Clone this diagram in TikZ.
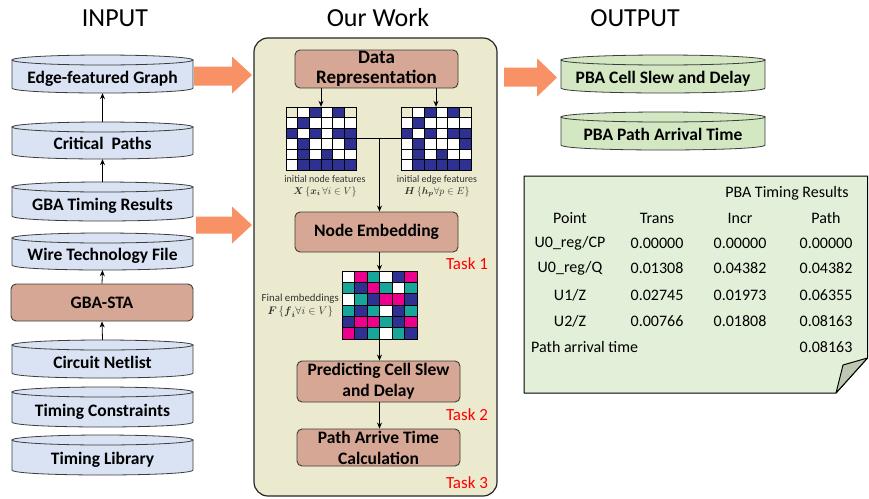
\documentclass[tikz,border=0pt]{standalone}
\usepackage{fontspec}
\usepackage{amsmath}
\setmainfont{Carlito}
\usetikzlibrary{arrows.meta}

\definecolor{inblue}{RGB}{218,227,243}
\definecolor{outgreen}{RGB}{210,231,194}
\definecolor{notegreen}{RGB}{226,239,217}
\definecolor{foldgreen}{RGB}{190,199,178}
\definecolor{panelbg}{RGB}{236,234,206}
\definecolor{boxbrown}{RGB}{213,167,148}
\definecolor{bigarrow}{RGB}{248,146,102}
\definecolor{cellY}{RGB}{236,234,206}
\definecolor{cellW}{RGB}{255,255,255}
\definecolor{cellB}{RGB}{46,49,146}
\definecolor{cellM}{RGB}{236,0,140}
\definecolor{cellT}{RGB}{22,166,154}
\definecolor{taskred}{RGB}{255,0,0}
\definecolor{edgegray}{RGB}{60,60,60}
\definecolor{labelgray}{RGB}{50,50,50}

\tikzset{
  boxtxt/.style={font=\fontsize{17.5}{21}\selectfont\bfseries, align=center, text=black},
  procbox/.style={draw=edgegray, fill=boxbrown, rounded corners=5pt, line width=0.9pt, boxtxt, inner sep=0pt},
  cylbox/.style={rectangle, inner sep=0pt, boxtxt, text height=19pt, text depth=1pt},
  gridbox/.style={rectangle, inner sep=0pt},
  conn/.style={-{Stealth[length=6pt,width=5pt]}, line width=0.8pt, draw=black},
  titletxt/.style={font=\fontsize{26}{30}\selectfont, text=black},
  smalllbl/.style={font=\fontsize{10}{12}\selectfont, text=labelgray, align=center, inner sep=0pt},
  tasktxt/.style={font=\fontsize{17}{20}\selectfont, text=taskred},
  tabtxt/.style={font=\fontsize{16}{19}\selectfont, text=black, inner sep=0pt},
  bigarr/.style={fill=bigarrow, draw=none}
}

% name, cx, top, bottom, half width, fill, text
\newcommand\cylshape[7]{%
  \filldraw[fill=#6, draw=edgegray, line width=0.8pt] ({#2-#5},{#3+5}) -- ({#2-#5},{#4-5})
     .. controls ({#2-#5},{#4+1.67}) and ({#2+#5},{#4+1.67}) .. ({#2+#5},{#4-5}) -- ({#2+#5},{#3+5}) -- cycle;
  \filldraw[fill=#6, draw=edgegray, line width=0.8pt] (#2,{#3+5}) ellipse[x radius=#5, y radius=5];
  \node[cylbox, minimum width={2*#5}, minimum height={#4-#3}] (#1) at (#2,{(#3+#4)/2}) {#7};
}

% x0, y0, cell width, cell height, rows
\newcommand\cellgrid[5]{%
  \foreach \row [count=\r] in {#5} {
    \foreach \c [count=\k] in \row {
      \filldraw[fill=cell\c, draw=black, line width=0.6pt] ({#1+(\k-1)*#3},{#2+(\r-1)*#4}) rectangle ++(#3,#4);
    }
  }
}

\begin{document}
\begin{tikzpicture}[x=1pt,y=-1pt]
\useasboundingbox (0,0) rectangle (869,498);

% titles
\node[titletxt] (tin) at (115,18) {INPUT};
\node[titletxt] (tow) at (378,18) {Our Work};
\node[titletxt] (tout) at (635,18) {OUTPUT};

% central panel
\draw[fill=panelbg, draw=black!85, line width=1.2pt, rounded corners=14pt] (254,38) rectangle (497,496);

% input column
\cylshape{efg}{102.5}{55}{93}{90.5}{inblue}{Edge-featured Graph}
\cylshape{cp}{102.5}{122}{159}{90.5}{inblue}{Critical\ \ Paths}
\cylshape{gtr}{102.5}{182}{221}{90.5}{inblue}{GBA Timing Results}
\cylshape{wtf}{102.5}{233}{270}{90.5}{inblue}{Wire Technology File}
\node[procbox, minimum width=182, minimum height=37] (sta) at (102,302.5) {GBA-STA};
\cylshape{cn}{102.5}{340}{378}{90.5}{inblue}{Circuit Netlist}
\cylshape{tc}{102.5}{387}{427}{90.5}{inblue}{Timing Constraints}
\cylshape{tl}{102.5}{435}{475}{90.5}{inblue}{Timing Library}

\draw[conn] (cp.north) -- (efg.south);
\draw[conn] (gtr.north) -- (cp.south);
\draw[conn] (sta.north) -- (wtf.south);
\draw[conn] (cn.north) -- (sta.south);

% big arrows
\fill[bigarr] (194,66.7) -- (232,66.7) -- (232,56.5) -- (252,75) -- (232,93.5) -- (232,85.7) -- (194,85.7) -- cycle;
\fill[bigarr] (196,216.5) -- (232,216.5) -- (232,206.5) -- (252,225) -- (232,243.5) -- (232,233.5) -- (196,233.5) -- cycle;
\fill[bigarr] (504,67.7) -- (537,67.7) -- (537,58.3) -- (557,77.5) -- (537,96.7) -- (537,86.7) -- (504,86.7) -- cycle;

% central flow
\node[procbox, minimum width=163, minimum height=38, font=\fontsize{19}{20}\selectfont\bfseries] (dr) at (376.5,69) {Data\\Representation};

\cellgrid{286}{107}{11.67}{10.5}{{Y,W,B,W,B,Y},{W,B,W,W,W,W},{B,W,B,W,B,B},{W,B,W,W,W,B},{W,B,W,B,W,W},{W,B,B,B,B,B}}
\cellgrid{401}{107}{11.67}{10.5}{{Y,W,B,W,B,Y},{W,B,W,W,W,W},{B,W,B,W,B,B},{W,B,W,W,W,B},{W,B,W,B,W,W},{W,B,B,B,B,B}}
\node[gridbox, minimum width=70, minimum height=63] (gx) at (321,138.5) {};
\node[gridbox, minimum width=70, minimum height=63] (gh) at (436,138.5) {};

\node[smalllbl] (lx) at (325,186) {initial node features\\ $\boldsymbol{X}\,\{\boldsymbol{x}_{\boldsymbol{i}}\,\forall i\in V\}$};
\node[smalllbl] (lh) at (437,186) {initial edge features\\ $\boldsymbol{H}\,\{\boldsymbol{h}_{\boldsymbol{p}}\forall p\in E\}$};

\draw[conn] (dr.south -| gx.north) -- (gx.north);
\draw[conn] (dr.south -| gh.north) -- (gh.north);

\node[procbox, minimum width=163, minimum height=40] (ne) at (376.5,232) {Node Embedding};
\coordinate (jn) at (379.5,138.5);
\draw[line width=0.8pt] (gx.east) -- (gh.west);
\draw[conn] (jn) -- (jn |- ne.north);

\node[tasktxt] (t1) at (467,264) {Task 1};

\cellgrid{342}{271}{12.5}{11.33}{{W,M,T,W,B,M},{T,B,M,T,W,T},{W,T,B,M,M,B},{T,B,T,W,B,T},{B,M,M,T,B,M},{M,B,T,W,T,B}}
\node[gridbox, minimum width=75, minimum height=68] (fe) at (379.5,305) {};
\node[smalllbl, anchor=east, font=\fontsize{10.8}{13}\selectfont] (lf) at (339,306) {Final embeddings\\ $\boldsymbol{F}\,\{\boldsymbol{f}_{\boldsymbol{i}}\forall i\in V\}$};

\draw[conn] (ne.south -| fe.north) -- (fe.north);

\node[procbox, minimum width=163, minimum height=41, font=\fontsize{17.5}{21}\selectfont\bfseries] (pc) at (378.5,381.5) {Predicting Cell Slew\\and Delay};
\draw[conn] (fe.south) -- (fe.south |- pc.north);
\node[tasktxt] (t2) at (467,415) {Task 2};

\node[procbox, minimum width=163, minimum height=37, font=\fontsize{17.5}{21}\selectfont\bfseries] (pa) at (378.5,447.5) {Path Arrive Time\\Calculation};
\draw[conn] (pc.south -| fe.south) -- (pa.north -| fe.south);
\node[tasktxt] (t3) at (467,483) {Task 3};

% output
\cylshape{ocs}{663}{55}{93}{102}{outgreen}{PBA Cell Slew and Delay}
\cylshape{opa}{663}{112}{150}{102}{outgreen}{PBA Path Arrival Time}

% note with table
\filldraw[fill=notegreen, draw=black, line width=1pt, line join=round] (524,176) -- (867.5,176) -- (867.5,358) -- (836,393) -- (524,393) -- cycle;
\filldraw[fill=foldgreen, draw=black, line width=1pt, line join=round] (836,393) -- (843,365) -- (867.5,358) -- cycle;

\node[tabtxt] (ttl) at (787,193) {PBA Timing Results};
\node[tabtxt] (h1) at (570,218) {Point};
\node[tabtxt] (h2) at (657,218) {Trans};
\node[tabtxt] (h3) at (740,218) {Incr};
\node[tabtxt] (h4) at (826,218) {Path};

\node[tabtxt] (a1) at (570,243) {U0\_reg/CP};
\node[tabtxt] (a2) at (657,243) {0.00000};
\node[tabtxt] (a3) at (740,243) {0.00000};
\node[tabtxt] (a4) at (826,243) {0.00000};

\node[tabtxt] (b1) at (570,268) {U0\_reg/Q};
\node[tabtxt] (b2) at (657,268) {0.01308};
\node[tabtxt] (b3) at (740,268) {0.04382};
\node[tabtxt] (b4) at (826,268) {0.04382};

\node[tabtxt] (c1) at (570,295) {U1/Z};
\node[tabtxt] (c2) at (657,295) {0.02745};
\node[tabtxt] (c3) at (740,295) {0.01973};
\node[tabtxt] (c4) at (826,295) {0.06355};

\node[tabtxt] (d1) at (570,321) {U2/Z};
\node[tabtxt] (d2) at (657,321) {0.00766};
\node[tabtxt] (d3) at (740,321) {0.01808};
\node[tabtxt] (d4) at (826,321) {0.08163};

\node[tabtxt, anchor=west] (e1) at (531,347) {Path arrival time};
\node[tabtxt] (e4) at (826,347) {0.08163};

\end{tikzpicture}
\end{document}
